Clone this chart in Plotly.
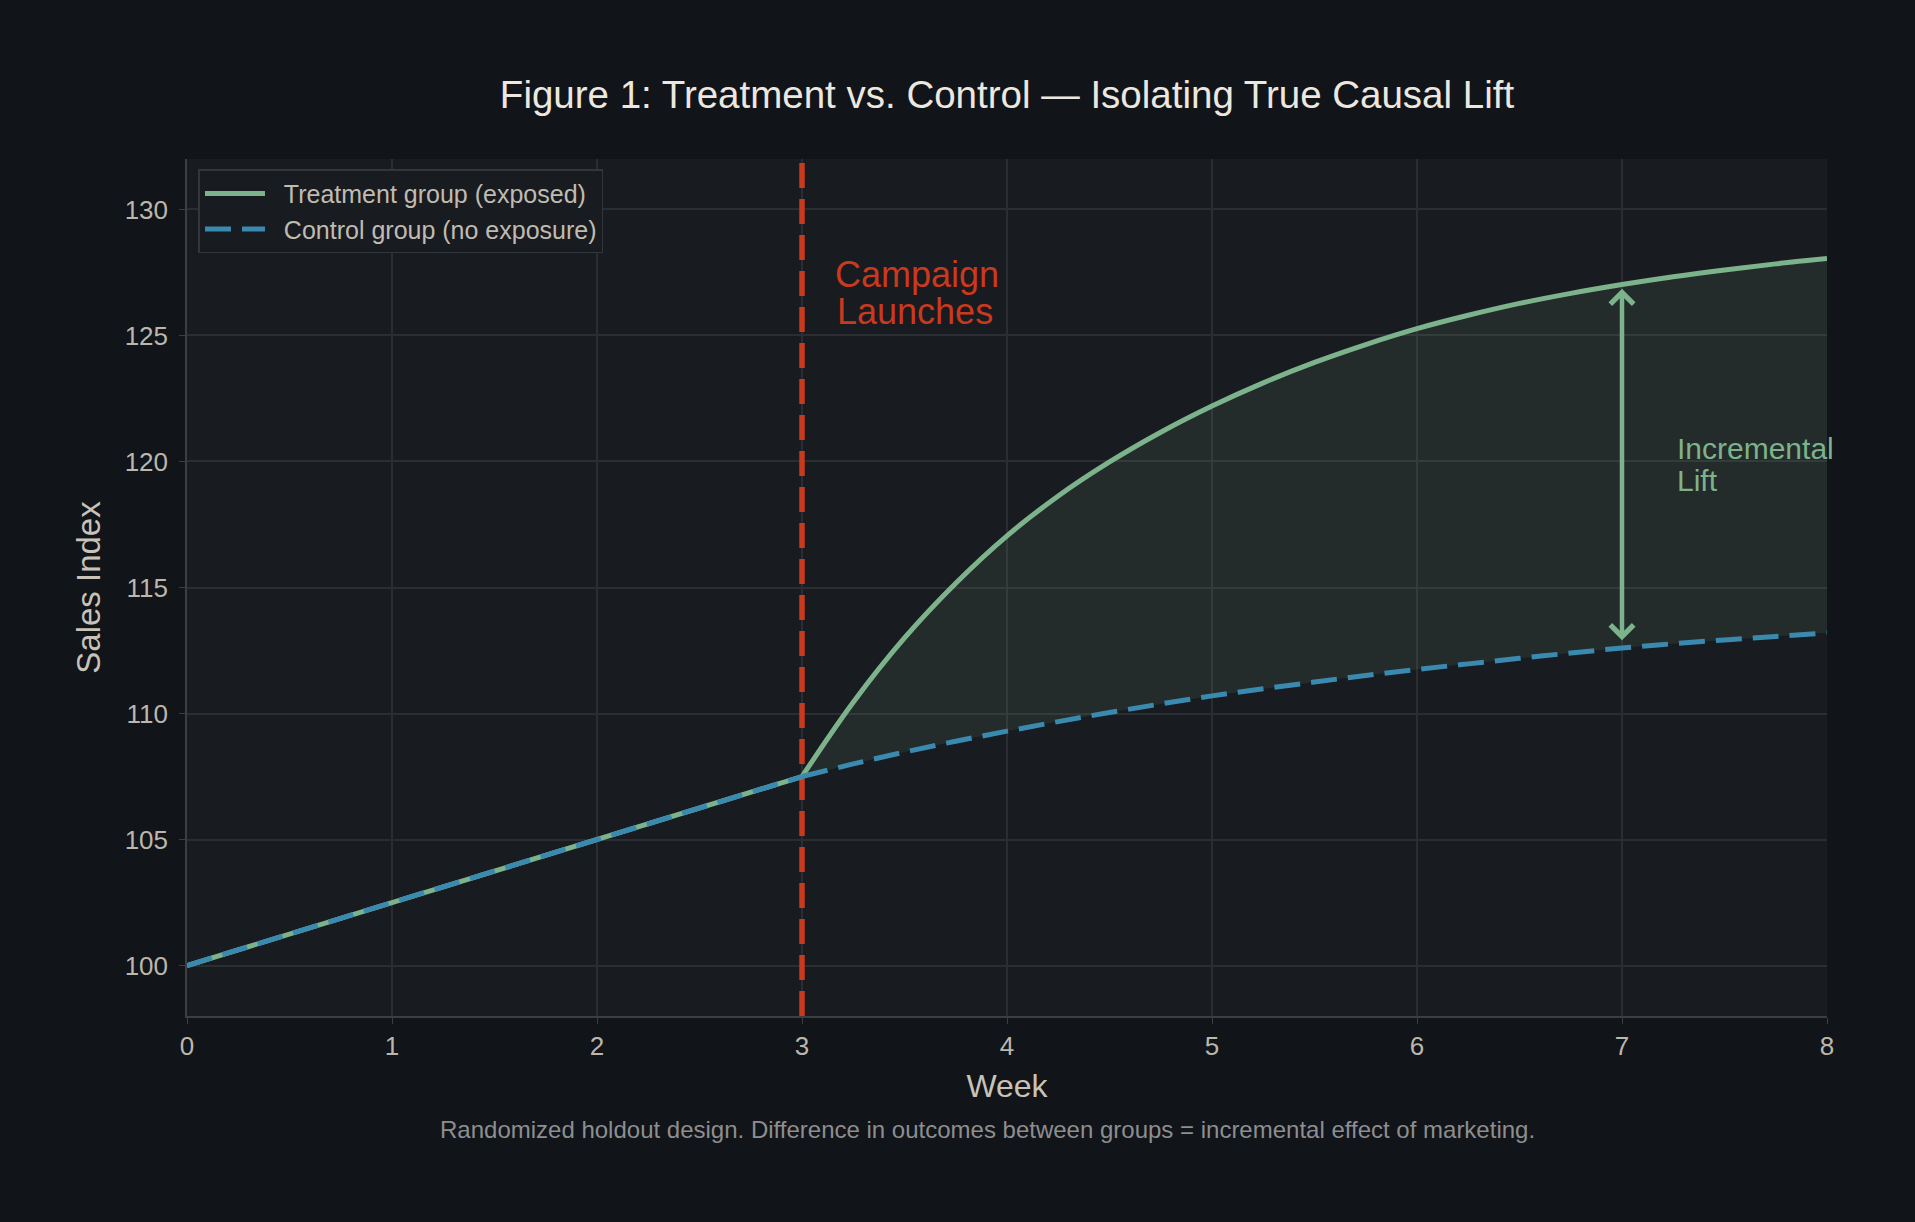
import plotly.graph_objects as go

# ---- data ----
weeks_pre = [0, 1, 2, 3]
sales_pre = [100.0, 102.5, 105.0, 107.5]

weeks_post = [3.0, 3.25, 3.5, 3.75, 4.0, 4.25, 4.5, 4.75, 5.0, 5.25, 5.5,
              5.75, 6.0, 6.25, 6.5, 6.75, 7.0, 7.25, 7.5, 7.75, 8.0]
control_post = [107.50, 108.00, 108.47, 108.90, 109.30, 109.68, 110.04, 110.38,
                110.70, 110.98, 111.25, 111.51, 111.75, 111.97, 112.19, 112.40,
                112.60, 112.77, 112.92, 113.06, 113.20]
treatment_post = [107.50, 110.45, 113.00, 115.17, 117.05, 118.63, 119.98, 121.16,
                  122.20, 123.12, 123.93, 124.64, 125.27, 125.80, 126.27, 126.67,
                  127.02, 127.33, 127.60, 127.84, 128.05]

launch_week = 3
lift_week = 7
lift_low = 112.85
lift_high = 126.85

x_ticks = [0, 1, 2, 3, 4, 5, 6, 7, 8]
y_ticks = [100, 105, 110, 115, 120, 125, 130]

# ---- styles ----
PAPER = "#111418"
PLOT = "#181b1f"
GRID = "#2a2d31"
GREEN = "#7db38c"
BLUE = "#3a8ab0"
RED = "#c8391e"
TICK = "#bcb7ad"
FONT = "Liberation Sans, Arial, Helvetica, sans-serif"
NB = "\u00a0\u00a0"

fig = go.Figure()

# shaded lift area
fig.add_trace(go.Scatter(x=weeks_post, y=control_post, mode="lines",
                         line=dict(width=0, color="rgba(0,0,0,0)", shape="spline"),
                         showlegend=False, hoverinfo="skip"))
fig.add_trace(go.Scatter(x=weeks_post, y=treatment_post, mode="lines",
                         line=dict(width=0, color="rgba(0,0,0,0)", shape="spline"),
                         fill="tonexty", fillcolor="rgba(125,179,140,0.11)",
                         showlegend=False, hoverinfo="skip"))

# launch line
fig.add_trace(go.Scatter(x=[launch_week, launch_week], y=[98, 132], mode="lines",
                         line=dict(color=RED, width=5.5, dash="25px,11px"),
                         showlegend=False, hoverinfo="skip"))

# treatment: pre (linear) + post (smooth)
fig.add_trace(go.Scatter(x=weeks_pre, y=sales_pre, mode="lines",
                         legendgroup="t", showlegend=False, hoverinfo="skip",
                         line=dict(color=GREEN, width=5)))
fig.add_trace(go.Scatter(x=weeks_post, y=treatment_post, mode="lines",
                         name=NB + "Treatment group (exposed)", legendgroup="t",
                         line=dict(color=GREEN, width=5, shape="spline")))
# control: pre (linear) + post (smooth)
fig.add_trace(go.Scatter(x=weeks_pre, y=sales_pre, mode="lines",
                         legendgroup="c", showlegend=False, hoverinfo="skip",
                         line=dict(color=BLUE, width=5, dash="26px,11px")))
fig.add_trace(go.Scatter(x=weeks_post, y=control_post, mode="lines",
                         name=NB + "Control group (no exposure)", legendgroup="c",
                         line=dict(color=BLUE, width=5, dash="26px,11px", shape="spline")))

fig.add_annotation(x=lift_week, y=lift_high, ax=lift_week, ay=lift_low,
                   xref="x", yref="y", axref="x", ayref="y", text="",
                   showarrow=True, arrowhead=4, startarrowhead=4,
                   arrowside="end+start", arrowwidth=4.5, arrowsize=1.0,
                   startarrowsize=1.0,
                   arrowcolor=GREEN, standoff=0, startstandoff=0)

fig.add_annotation(x=3.15, y=127.4, xref="x", yref="y", xanchor="left",
                   yanchor="middle", showarrow=False, text="Campaign",
                   font=dict(family=FONT, size=36, color=RED))
fig.add_annotation(x=3.16, y=125.95, xref="x", yref="y", xanchor="left",
                   yanchor="middle", showarrow=False, text="Launches",
                   font=dict(family=FONT, size=36, color=RED))

fig.add_annotation(x=7.26, y=120.5, xref="x", yref="y", xanchor="left",
                   yanchor="middle", showarrow=False, text="Incremental",
                   font=dict(family=FONT, size=30, color=GREEN))
fig.add_annotation(x=7.26, y=119.25, xref="x", yref="y", xanchor="left",
                   yanchor="middle", showarrow=False, text="Lift",
                   font=dict(family=FONT, size=30, color=GREEN))

fig.add_annotation(x=0.488, y=-0.133, xref="paper", yref="paper",
                   xanchor="center", yanchor="middle", showarrow=False,
                   text="Randomized holdout design. Difference in outcomes between groups = incremental effect of marketing.",
                   font=dict(family=FONT, size=24, color="#8d8e90"))

fig.update_layout(
    width=1915, height=1222,
    paper_bgcolor=PAPER, plot_bgcolor=PLOT,
    margin=dict(l=187, r=88, t=159, b=206),
    font=dict(family=FONT, color=TICK),
    title=dict(text="Figure 1: Treatment vs. Control — Isolating True Causal Lift",
               x=0.5, xref="paper", xanchor="center", y=1 - 95 / 1222, yanchor="middle",
               font=dict(family=FONT, size=38.5, color="#ece8e0")),
    legend=dict(x=0.007, y=0.988, xanchor="left", yanchor="top",
                bgcolor=PLOT, bordercolor="#33363b", borderwidth=1.5,
                font=dict(family=FONT, size=25, color="#c0bbb2"),
                itemwidth=60, traceorder="normal", tracegroupgap=0),
    showlegend=True,
)

fig.update_xaxes(range=[0, 8], tickvals=x_ticks, showgrid=True, gridcolor=GRID,
                 gridwidth=1.5, zeroline=False, showline=True, linecolor="#3b3e43",
                 linewidth=1.5, ticks="outside", ticklen=6, tickcolor="#3b3e43",
                 tickfont=dict(family=FONT, size=26, color=TICK),
                 title=dict(text="Week", standoff=15,
                            font=dict(family=FONT, size=32, color="#c8c3b9")))
fig.update_yaxes(range=[98, 132], tickvals=y_ticks, showgrid=True, gridcolor=GRID,
                 gridwidth=1.5, zeroline=False, showline=True, linecolor="#3b3e43",
                 linewidth=1.5, ticks="outside", ticklen=6, tickcolor="#3b3e43",
                 ticklabelstandoff=6,
                 tickfont=dict(family=FONT, size=26, color=TICK),
                 title=dict(text="Sales Index", standoff=14,
                            font=dict(family=FONT, size=33, color="#c8c3b9")))

fig.write_html("out.html", config={"displayModeBar": False},
               post_script="document.body.style.margin='0';"
                           "document.body.style.background='#111418';")
